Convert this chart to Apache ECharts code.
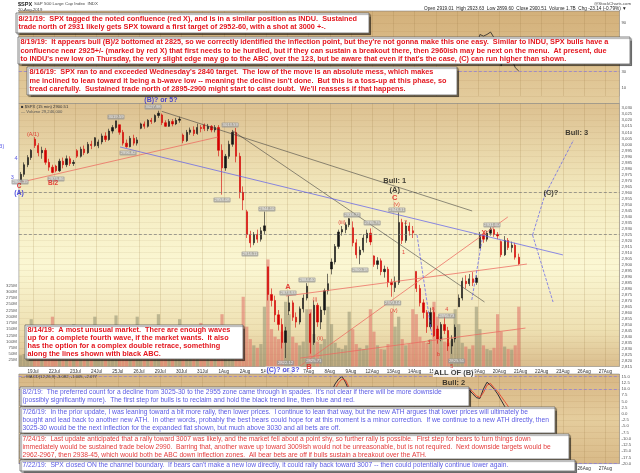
<!DOCTYPE html>
<html>
<head>
<meta charset="utf-8">
<script src="https://cdn.jsdelivr.net/npm/echarts@6/dist/echarts.min.js"></script>
<style>
html,body{margin:0;padding:0;background:#fff}
#chart{width:640px;height:473px}
</style>
</head>
<body>
<div id="chart"></div>
<script>
// trading days shown on the x axis and how many bars each one gets
var days = ['18Jul','19Jul','22Jul','23Jul','24Jul','25Jul','26Jul','29Jul','30Jul','31Jul','1Aug','2Aug','5Aug','6Aug','7Aug','8Aug','9Aug','12Aug','13Aug','14Aug','15Aug','16Aug','19Aug','20Aug','21Aug','22Aug','23Aug','26Aug','27Aug'];
var barsPerDay = [4,6,6,6,6,6,6,6,6,6,6,6,6,6,6,6,6,6,6,6,6,6,6,6,6,6,6,6,4];

// [open, close, low, high]
var ohlc = [
  [2968,2975,2966.4,2977],[2975,2983,2973,2985],[2983,2989,2981,2991],[2989,2995.1,2987,2996],
  [3004.3,2999,2997,3006],[2999,2993,2990,3001],[2993,2995,2988,2998],[2995,2985,2983,2997],[2985,2981,2978,2988],[2981,2976.6,2975.9,2983],
  [2981.9,2978,2976.7,2983],[2978,2986,2977,2988],[2986,2983,2980,2989],[2983,2988,2981,2990.7],[2988,2984,2982,2990],[2984,2985,2982,2987],
  [2994.7,2990,2988.6,2996],[2990,2996,2989,2998],[2996,2993,2991,2999],[2993,3000,2992,3002],[3000,2999,2996,3003],[2999,3005.5,2998,3005.9],
  [2998.8,3002,2996.8,3004],[3002,3007,3000,3009],[3007,3004,3002,3010],[3004,3011,3003,3013],[3011,3014,3009,3016],[3014,3019.6,3013,3019.6],
  [3016.3,3010,3008,3016.3],[3010,3001,2999,3012],[3001,2998,2997.2,3004],[2998,3005,2997.5,3007],[3005,3001,2999,3008],[3001,3003.7,2999,3006],
  [3013.3,3017,3012.6,3018],[3017,3015,3013,3019],[3015,3020,3014,3021],[3020,3019,3017,3022],[3019,3024,3018,3025],[3024,3025.9,3022,3027.98],
  [3024.5,3018,3016,3025.6],[3018,3015,3014.5,3020],[3015,3019,3014.6,3021],[3019,3017,3015,3021],[3017,3020,3016,3022],[3020,3021,3018,3023],
  [3007.7,3003,3000.9,3009],[3003,3010,3002,3012],[3010,3012,3008,3014],[3012,3009,3007,3015],[3009,3014,3008,3017.2],[3014,3013.2,3010,3016],
  [3016.2,3013,3011,3017.4],[3013,3015,3011,3017],[3015,3012,3010,3016],[3012,3014,3010,3016],[3014,2995,2990,3016],[2995,2980.4,2958.1,3000],
  [2980.3,2990,2978,2992],[2990,3000,2988,3003],[3000,3010,2998,3012],[3010,2990,2985,3013.6],[2990,2960,2955,2993],[2960,2953.6,2945.2,2965],
  [2943.9,2925,2922,2945.5],[2925,2918,2914.1,2928],[2918,2925,2916,2927],[2925,2921,2918,2929],[2921,2928,2919,2931],[2928,2932.1,2925,2944],
  [2898,2875,2870,2898],[2875,2870,2865,2880],[2870,2858,2852,2874],[2858,2850,2845,2862],[2850,2835,2830,2855],[2835,2844.7,2822.1,2848],
  [2861.2,2868,2858,2874],[2868,2856,2853,2870],[2856,2852,2847.4,2860],[2852,2863,2850,2865],[2863,2872,2860,2875],[2872,2881.8,2870,2884.4],
  [2858.7,2835,2825.7,2860],[2835,2866,2833,2870],[2866,2852,2848,2868],[2852,2862,2846,2865],[2862,2878,2858,2880],[2878,2884,2875,2892.2],
  [2896.2,2902,2891.7,2905],[2902,2915,2900,2917],[2915,2927,2913,2929],[2927,2929,2924,2932],[2929,2933,2926,2935],[2933,2938.1,2931,2938.7],
  [2930.5,2918,2915,2935.8],[2918,2908,2905,2921],[2908,2912,2900.2,2915],[2912,2922,2910,2925],[2922,2926,2918,2929],[2926,2918.7,2916,2930],
  [2907.1,2900,2898,2907.6],[2900,2903,2896,2906],[2903,2894,2891,2905],[2894,2896,2889,2899],[2896,2885,2881,2898],[2885,2883.1,2873.1,2888],
  [2880.7,2885,2877,2890],[2885,2935,2883,2943.3],[2935,2920,2917,2938],[2920,2932,2918,2936],[2932,2928,2924,2935],[2928,2926.3,2922,2932],
  [2894.2,2880,2877,2894.2],[2880,2868,2865,2883],[2868,2860,2855,2871],[2860,2848,2843,2862],[2848,2860,2846,2864],[2860,2840.6,2839.6,2862],
  [2846.2,2838,2834,2849],[2838,2850,2836,2852],[2850,2845,2842,2856.7],[2845,2832,2828,2848],[2832,2838,2825.5,2841],[2838,2847.6,2835,2850],
  [2864.7,2872,2864.7,2875],[2872,2886,2870,2889],[2886,2884,2880,2891],[2884,2888,2882,2892],[2888,2885,2882,2893.6],[2885,2888.7,2883,2891],
  [2913.5,2924,2913.5,2927],[2924,2921,2918,2926],[2921,2926,2919,2928],[2926,2929,2924,2931],[2929,2925,2923,2930],[2925,2923.7,2921,2927],
  [2919,2908,2906,2920],[2908,2920,2907,2923.6],[2920,2914,2912,2922],[2914,2916,2910,2919],[2916,2906,2904,2918],[2906,2900.5,2899.6,2909]
];

// volume in millions per bar
var volume = [
  45,50,60,190,
  110,60,45,40,55,200,  95,55,40,38,50,170,  100,55,45,42,60,200,  105,60,48,45,58,205,
  115,65,50,48,62,200,  100,55,45,44,60,210,  95,52,42,40,55,190,   105,58,45,45,62,175,
  100,55,48,50,120,210, 115,70,60,90,140,280, 160,110,85,75,90,240, 430,150,120,110,140,260,
  210,120,95,85,100,230, 230,130,100,90,110,240, 170,95,75,70,85,220, 150,90,75,70,85,230,
  140,85,70,68,90,220,  160,200,110,85,90,230, 210,120,100,95,110,260, 200,120,100,95,105,230,
  170,95,80,70,85,240,  150,85,70,65,75,210,  140,80,70,68,85,240
];

// indicator pieces that are not hidden by the notes (start = bar index)
var rsiStart = 124;
var rsiVals = [45,55,55,60,58,60, 76,74,76,79,72,68, 37,50,45,46,35,30.87];
var macdStartA = 87;
var macdA   = [5,9,12,14,15,12.5,9,6];
var signalA = [4,7.5,10,12.5,14,13.5,10.5,8];
var macdStartB = 126;
var macdB   = [10.5,9.5,8,6.5, 6.2,10,12.7,11.5,10,8, 5.5,3,1,-0.5,-2,-3.082];
var signalB = [10.5,10,8.8,7.2, 6.6,8.5,11.5,12.2,10.5,9, 7,5,3,1.2,-0.2,-1.005];

// trend lines [bar1, price1, bar2, price2]
var redLines = [
  [-5.84,2964.5,55.86,3006.1],
  [75.1,2873.7,143.3,2900.3],
  [79.1,2815.4,137.9,2939.5],
  [79.1,2822.0,142.9,2847.0]
];
var blackLines = [
  [39.93,3027.5,127.8,2944.5],
  [60.1,3011.1,131.3,2868.7]
];
var blueLines = [
  [28.13,2997.8,153.5,2907.9]
];
var bluePaths = [
  [[112.2,2924.5],[116.4,2841.2]],
  [[127.7,2870.4],[130.6,2920.4]],
  [[144.9,2924.5],[148.3,2957.0],[156.5,3003.6]],
  [[144.9,2924.5],[150.7,2868.7]]
];
var levels = [2960, 2925];

// wave labels [bar, price, text, kind]
var waveLabels = [
  [39.7,3036.9,'(B)? or 5?','blueBold'],
  [3.5,3008.6,'(A/1)','redSmall'],
  [-5.6,2998.6,'(3)','blueSmall'],
  [-1.3,2987.8,'4','blueSmall'],
  [-2.4,2972.0,'3','blueSmall'],
  [-0.46,2965.3,'C','redMid'],
  [-0.46,2959.5,'(A)','blueBold'],
  [9.17,2967.8,'B/2','redMid'],
  [90.95,2935.3,'(iii)','redSmall'],
  [106.45,2949.5,'(v)','redSmall'],
  [105.9,2955.3,'C','redBig'],
  [105.9,2962.0,'(A)','blackBold'],
  [105.9,2969.5,'Bull: 1','blackBold'],
  [75.67,2881.2,'A','redBig'],
  [83.32,2870.4,'(i)','redSmall'],
  [84.73,2838.7,'(ii)','redSmall'],
  [81.62,2814.6,'B','redBig'],
  [74.26,2812.1,'(C)? or 3?','blueBox'],
  [105.6,2862.0,'(iv)','redSmall'],
  [108.4,2910.3,'1','redSmall'],
  [109.0,2935.3,'2','redSmall'],
  [115.5,2834.6,'3','redSmall'],
  [116.7,2862.9,'a','redSmall'],
  [120.6,2862.5,'4','redSmall'],
  [118.3,2825.4,'b','redSmall'],
  [122.0,2814.6,'5','redSmall'],
  [122.6,2809.6,'ALL OF (B)','blackBox'],
  [122.6,2801.3,'Bull: 2','blackBold'],
  [131.1,2926.2,'X','redX'],
  [150.1,2959.5,'(C)?','blackBold'],
  [157.4,3009.4,'Bull: 3','blackBold']
];

// grey high/low tags [bar, price, text]
var priceTags = [
  [37.5,3031.1,'3027.98'],[26.98,3022.8,'3019.59'],[59.3,3016.1,'3013.59'],[30.4,2992.8,'2996.82'],
  [10.0,2971.1,'2975.86'],[-0.17,2968.6,'2966.39'],[57.0,2953.6,'2958.08'],[69.7,2946.1,'2944.10'],
  [64.9,2908.7,'2914.11'],[106.5,2945.3,'2943.31'],[93.8,2941.2,'2938.72'],[99.5,2934.5,'2935.75'],
  [96.05,2895.4,'2900.18'],[81.05,2887.0,'2884.40'],[75.67,2876.2,'2873.93'],[105.3,2867.9,'2873.14'],
  [82.97,2819.6,'2825.71'],[74.97,2817.9,'2822.12'],[120.6,2857.0,'2856.73'],[123.4,2819.6,'2825.51'],
  [133.4,2932.8,'2931.00']
];
var lastClose = 2900.51;

// annotation texts
var note0821 = ['8/21/19:  SPX tagged the noted confluence (red X), and is in a similar position as INDU.  Sustained',
  'trade north of 2931 likely gets SPX toward a first target of 2952-60, with a shot at 3000 +-.'];
var note0819 = ['8/19/19:  It appears bull (B)/2 bottomed at 2825, so we correctly identified the inflection point, but they\'re not gonna make this one easy.  Similar to INDU, SPX bulls have a',
  'confluence near 2925+/- (marked by red X) that first needs to be hurdled, but if they can sustain a breakout there, then 2960ish may be next on the menu.  At present, due',
  'to INDU\'s new low on Thursday, the very slight edge may go to the ABC over the 123, but be aware that even if that\'s the case, (C) can run higher than shown.'];
var note0816 = ['8/16/19:  SPX ran to and exceeded Wednesday\'s 2840 target.  The low of the move is an absolute mess, which makes',
  'me inclined to lean toward it being a b-wave low -- meaning the decline isn\'t done.  But this is a toss-up at this phase, so',
  'tread carefully.  Sustained trade north of 2895-2900 might start to cast doubt.  We\'ll reassess if that happens.'];
var note0814 = ['8/14/19:  A most unusual market.  There are enough waves',
  'up for a complete fourth wave, if the market wants.  It also',
  'has the option for a complex double retrace, something',
  'along the lines shown with black ABC.'];
var note0802 = ['8/2/19:  The preferred count for a decline from 3025-30 to the 2955 zone came through in spades.  It\'s not clear if there will be more downside',
  '(possibly significantly more).  The first step for bulls is to reclaim and hold the black trend line, then blue and red.'];
var note0726 = ['7/26/19:  In the prior update, I was leaning toward a bit more rally, then lower prices.  I continue to lean that way, but the new ATH argues that lower prices will ultimately be',
  'bought and lead back to another new ATH.  In other words, probably the best bears could hope for at this moment is a minor correction.  If we continue to a new ATH directly, then',
  '3025-30 would be the next inflection for the expanded flat shown, but much above 3030 and all bets are off.'];
var note0724 = ['7/24/19:  Last update anticipated that a rally toward 3007 was likely, and the market fell about a point shy, so further rally is possible.  First step for bears to turn things down',
  'immediately would be sustained trade below 2990.  Barring that, another wave up toward 3009ish would not be unreasonable, but is not required.  Next downside targets would be',
  '2962-2967, then 2938-45, which would both be ABC down inflection zones.  All bear bets are off if bulls sustain a breakout over the ATH.'];
var note0722 = ['7/22/19:  SPX closed ON the channel boundary.  If bears can\'t make a new low directly, it could rally back toward 3007 -- then could potentially continue lower again.'];

// ---------- build ----------
var FONT = '"Liberation Sans", Arial, sans-serif';
var cats = [], dayStart = {}, n = 0;
days.forEach(function (d, k) {
  for (var j = 0; j < barsPerDay[k]; j++) {
    cats.push(d + ' ' + j);
    if (j === 0) dayStart[n] = d;
    n++;
  }
});
function isDayStart(i) { return i > 0 && dayStart[i] !== undefined; }
function dayName(v) { return v.split(' ')[0]; }

function spread(parts) {
  var a = [];
  for (var i = 0; i < ohlc.length; i++) a.push('-');
  parts.forEach(function (p) { p[1].forEach(function (v, j) { a[p[0] + j] = v; }); });
  return a;
}

var volData = volume.map(function (v, i) {
  var b = ohlc[i];
  return { value: v, itemStyle: { color: b[1] < b[0] ? 'rgba(222,110,100,0.55)' : 'rgba(135,135,105,0.5)' } };
});

var labelStyles = {
  blueBold:  { color: '#2323d8', fontSize: 7, fontWeight: 'bold' },
  blueSmall: { color: '#3030e0', fontSize: 5.5 },
  blueBox:   { color: '#2323d8', fontSize: 7, fontWeight: 'bold', backgroundColor: '#fff', padding: [0, 1] },
  redSmall:  { color: '#e01818', fontSize: 5.5 },
  redMid:    { color: '#e01818', fontSize: 6.5, fontWeight: 'bold' },
  redBig:    { color: '#e01818', fontSize: 7.5, fontWeight: 'bold' },
  redX:      { color: '#e01818', fontSize: 7, fontWeight: 'bold' },
  blackBold: { color: '#111', fontSize: 7.5, fontWeight: 'bold' },
  blackBox:  { color: '#111', fontSize: 7.5, fontWeight: 'bold', backgroundColor: '#fff', padding: [0, 1] }
};

var waveData = waveLabels.map(function (w) {
  var st = labelStyles[w[3]];
  var lab = { show: true, position: 'inside', formatter: w[2], fontFamily: FONT };
  for (var k in st) lab[k] = st[k];
  return { value: [w[0], w[1]], label: lab };
});
var tagData = priceTags.map(function (t) {
  return { value: [t[0], t[1]], label: { show: true, position: 'inside', formatter: t[2] } };
});

function lineSeries(pts, color, width, dash) {
  return {
    type: 'line', xAxisIndex: 1, yAxisIndex: 0, data: pts, clip: false, silent: true,
    showSymbol: false, symbol: 'none', z: 5,
    lineStyle: { color: color, width: width, type: dash || 'solid' }
  };
}

var series = [
  { type: 'bar', xAxisIndex: 0, yAxisIndex: 1, data: volData, barWidth: 3.2, z: 1, silent: true },
  {
    type: 'candlestick', xAxisIndex: 0, yAxisIndex: 0, data: ohlc, barMaxWidth: 2.3, z: 4,
    itemStyle: { color: '#151515', color0: '#d40000', borderColor: '#151515', borderColor0: '#d40000', borderWidth: 0.6 },
    markLine: {
      silent: true, symbol: 'none', animation: false,
      data: levels.map(function (l) {
        return { yAxis: l, lineStyle: { color: '#7a7a7a', width: 0.7, type: [3, 2] }, label: { show: false } };
      }).concat([{
        yAxis: lastClose, lineStyle: { opacity: 0 },
        label: { show: true, position: 'end', formatter: '2900.51', fontSize: 4.5, color: '#222', backgroundColor: '#c8c8c8',
                 borderColor: '#888', borderWidth: 0.4, padding: [0.5, 1], distance: 1 }
      }])
    }
  }
];
redLines.forEach(function (l) { series.push(lineSeries([[l[0], l[1]], [l[2], l[3]]], 'rgba(236,105,95,0.95)', 0.8)); });
blackLines.forEach(function (l) { series.push(lineSeries([[l[0], l[1]], [l[2], l[3]]], 'rgba(60,60,60,0.8)', 0.7)); });
blueLines.forEach(function (l) { series.push(lineSeries([[l[0], l[1]], [l[2], l[3]]], 'rgba(95,95,235,0.9)', 0.8)); });
bluePaths.forEach(function (p) { series.push(lineSeries(p, 'rgba(95,95,235,0.9)', 0.8, [3, 1.5])); });

series.push({
  type: 'scatter', xAxisIndex: 1, yAxisIndex: 0, data: tagData, clip: false, silent: true, z: 8,
  symbolSize: 0.1, itemStyle: { color: 'transparent' },
  label: { show: true, fontSize: 4.2, color: '#fff', backgroundColor: 'rgba(150,150,150,0.92)', padding: [0.5, 1],
           borderRadius: 1, fontFamily: FONT }
});
series.push({
  type: 'scatter', xAxisIndex: 1, yAxisIndex: 0, data: waveData, clip: false, silent: true, z: 10,
  symbolSize: 0.1, itemStyle: { color: 'transparent' }
});
series.push({
  type: 'line', xAxisIndex: 2, yAxisIndex: 2, data: spread([[rsiStart, rsiVals]]), showSymbol: false, symbol: 'none',
  lineStyle: { color: '#222', width: 0.8 }, silent: true,
  markLine: {
    silent: true, symbol: 'none', animation: false,
    data: [
      { yAxis: 30, lineStyle: { color: '#8a78e0', width: 0.7, type: [3, 2] }, label: { show: false } },
      { yAxis: 70, lineStyle: { color: '#8a78e0', width: 0.7, type: [3, 2] }, label: { show: false } },
      { yAxis: 30.87, lineStyle: { opacity: 0 },
        label: { show: true, position: 'end', formatter: '30.87', fontSize: 4.5, color: '#222', backgroundColor: '#c8c8c8', padding: [0.5, 1], distance: 1 } }
    ]
  }
});
series.push({
  type: 'line', xAxisIndex: 3, yAxisIndex: 3, data: spread([[macdStartA, macdA], [macdStartB, macdB]]), showSymbol: false, symbol: 'none',
  lineStyle: { color: '#1c1c2c', width: 0.9 }, silent: true,
  markLine: {
    silent: true, symbol: 'none', animation: false,
    data: [
      { yAxis: 15, lineStyle: { color: '#8a78e0', width: 0.7, type: [3, 2] }, label: { show: false } },
      { yAxis: 10, lineStyle: { color: '#8a78e0', width: 0.7, type: [3, 2] }, label: { show: false } },
      { yAxis: -20, lineStyle: { color: '#8a78e0', width: 0.7, type: [3, 2] }, label: { show: false } },
      { yAxis: -3.082, lineStyle: { opacity: 0 },
        label: { show: true, position: 'end', formatter: '-3.082', fontSize: 4.3, color: '#222', backgroundColor: '#d0d0d0', borderColor: '#333', borderWidth: 0.4, padding: [0.3, 1], distance: 1 } }
    ]
  }
});
series.push({
  type: 'line', xAxisIndex: 3, yAxisIndex: 3, data: spread([[macdStartA, signalA], [macdStartB, signalB]]), showSymbol: false, symbol: 'none',
  lineStyle: { color: '#e8402a', width: 0.9 }, silent: true,
  markLine: {
    silent: true, symbol: 'none', animation: false,
    data: [{ yAxis: -1.005, lineStyle: { opacity: 0 },
      label: { show: true, position: 'end', formatter: '-1.005', fontSize: 4.3, color: '#222', backgroundColor: '#d0d0d0', borderColor: '#e8402a', borderWidth: 0.4, padding: [0.3, 1], distance: 1 } }]
  }
});

// panel geometry
var GL = 18.87, GW = 600.6;
var rsiTop = 11, rsiH = 85, priceTop = 103.5, priceH = 263, macdTop = 374, macdH = 89.6;

function dateAxis(grid, showLabels) {
  return {
    type: 'category', gridIndex: grid, data: cats, boundaryGap: true,
    axisLine: { show: false }, axisTick: { show: false },
    axisLabel: { show: showLabels, interval: isDayStart, formatter: dayName, fontSize: 4.6, color: '#333',
                 margin: 2.5, padding: [0, 3.5, 0, 0], fontFamily: FONT },
    splitLine: { show: true, interval: isDayStart, lineStyle: { color: 'rgba(150,115,60,0.3)', width: 0.6 } }
  };
}
var tinyAxis = { fontSize: 4.3, color: '#555', margin: 2, fontFamily: FONT };
function ax(extra) { var o = {}; for (var k in tinyAxis) o[k] = tinyAxis[k]; for (var e in extra) o[e] = extra[e]; return o; }

function panelBg(y, h, stops) {
  return {
    type: 'rect', z: -10, silent: true,
    shape: { x: GL, y: y, width: GW, height: h },
    style: { fill: { type: 'linear', x: 0, y: 0, x2: 0, y2: 1, colorStops: stops }, stroke: '#8d8d8d', lineWidth: 0.6 }
  };
}

var zc = 100;
function box(x, y, w, h, lines, color, bold, fs, lh) {
  zc += 2;
  return [
    { type: 'rect', z: zc, silent: true, shape: { x: x, y: y, width: w, height: h },
      style: { fill: '#fff', stroke: '#555', lineWidth: 0.7, shadowColor: 'rgba(0,0,0,0.45)', shadowOffsetX: 1.5, shadowOffsetY: 1.5, shadowBlur: 1 } },
    { type: 'text', z: zc + 1, silent: true, x: x + 2.5, y: y + 1.2,
      style: { text: lines.join('\n'), fill: color, fontSize: fs, fontWeight: bold ? 'bold' : 'normal', fontFamily: FONT,
               lineHeight: lh, align: 'left', verticalAlign: 'top' } }
  ];
}
function txt(x, y, s, fs, color, extra) {
  var st = { text: s, fill: color || '#333', fontSize: fs, fontFamily: FONT, align: 'left', verticalAlign: 'middle' };
  if (extra) for (var k in extra) st[k] = extra[k];
  return { type: 'text', z: 120, silent: true, x: x, y: y, style: st };
}

var red = '#e3161e', blue = '#5a5ae4';
var graphics = [
  panelBg(rsiTop, priceTop - rsiTop, [{ offset: 0, color: '#d3b07a' }, { offset: 1, color: '#e4cd9e' }]),
  panelBg(priceTop, priceH, [{ offset: 0, color: '#dcc090' }, { offset: 0.35, color: '#f4ebc0' }, { offset: 0.62, color: '#fbf7d3' },
                             { offset: 0.86, color: '#eee0b2' }, { offset: 1, color: '#d9bc8c' }]),
  panelBg(macdTop, macdH, [{ offset: 0, color: '#d7b684' }, { offset: 0.5, color: '#e5cd9d' }, { offset: 1, color: '#d8b987' }]),
  txt(18, 4, '$SPX', 5.5, '#222', { fontWeight: 'bold' }),
  txt(34, 4, 'S&P 500 Large Cap Index  INDX', 4.4, '#444'),
  txt(18, 10, '20-Aug-2019', 4.2, '#444'),
  txt(594, 3.5, '@StockCharts.com', 4.3, '#444'),
  txt(424, 8.5, 'Open 2919.01  High 2923.63  Low 2899.60  Close 2900.51  Volume 1.7B  Chg -23.14 (-0.79%) \u25BC', 4.7, '#222'),
  txt(21, 107, '\u25A0 $SPX (15 min) 2900.51', 4.2, '#333'),
  txt(21, 112, '\u2014 Volume 29,246,000', 4.2, '#555'),
  txt(21, 377, '\u2014 MACD(12,26,9) -3.082, -1.005, -2.077', 4.2, '#333')
];
[
  box(16, 13, 353, 20, note0821, red, true, 7.3, 8.7),
  box(18, 37, 612, 27, note0819, red, true, 7.3, 8.4),
  box(27, 67, 430, 28, note0816, red, true, 7.3, 8.4),
  box(25, 325, 218, 34, note0814, red, true, 7.3, 8.0),
  box(20, 387, 449, 19, note0802, blue, false, 6.7, 8.0),
  box(20, 407, 535, 26, note0726, blue, false, 6.7, 8.0),
  box(20, 434, 549, 25, note0724, '#e33c3c', false, 6.7, 8.0),
  box(20, 460, 555, 11, note0722, blue, false, 6.7, 8.0)
].forEach(function (b) { graphics = graphics.concat(b); });

var option = {
  animation: false,
  backgroundColor: '#fff',
  textStyle: { fontFamily: FONT },
  grid: [
    { left: GL, width: GW, top: rsiTop, height: rsiH },
    { left: GL, width: GW, top: priceTop, height: priceH },
    { left: GL, width: GW, top: macdTop, height: macdH }
  ],
  xAxis: [
    dateAxis(1, true),
    { type: 'value', gridIndex: 1, min: -0.5, max: cats.length - 0.5, show: false },
    dateAxis(0, false),
    dateAxis(2, true)
  ],
  yAxis: [
    { type: 'value', gridIndex: 1, position: 'right', min: 2815, max: 3034, interval: 5,
      axisLine: { show: false }, axisTick: { show: false },
      axisLabel: ax({ showMaxLabel: false }),
      splitLine: { lineStyle: { color: 'rgba(165,130,80,0.2)', width: 0.5 } } },
    { type: 'value', gridIndex: 1, position: 'left', min: 0, max: 1056, interval: 25,
      axisLine: { show: false }, axisTick: { show: false }, splitLine: { show: false },
      axisLabel: ax({ formatter: function (v) { return v > 0 && v <= 325 ? v + 'M' : ''; } }) },
    { type: 'value', gridIndex: 0, position: 'right', min: 0, max: 105, interval: 10,
      axisLine: { show: false }, axisTick: { show: false },
      axisLabel: ax({ formatter: function (v) { return v % 20 === 10 ? String(v) : ''; } }),
      splitLine: { lineStyle: { color: 'rgba(150,115,60,0.2)', width: 0.5 } } },
    { type: 'value', gridIndex: 2, position: 'right', min: -20, max: 16, interval: 2.5,
      axisLine: { show: false }, axisTick: { show: false },
      axisLabel: ax({ showMaxLabel: false, formatter: function (v) { return v.toFixed(1); } }),
      splitLine: { lineStyle: { color: 'rgba(150,115,60,0.2)', width: 0.5 } } }
  ],
  series: series,
  graphic: { elements: graphics }
};

var chart = echarts.init(document.getElementById('chart'));
chart.setOption(option);
</script>
</body>
</html>
